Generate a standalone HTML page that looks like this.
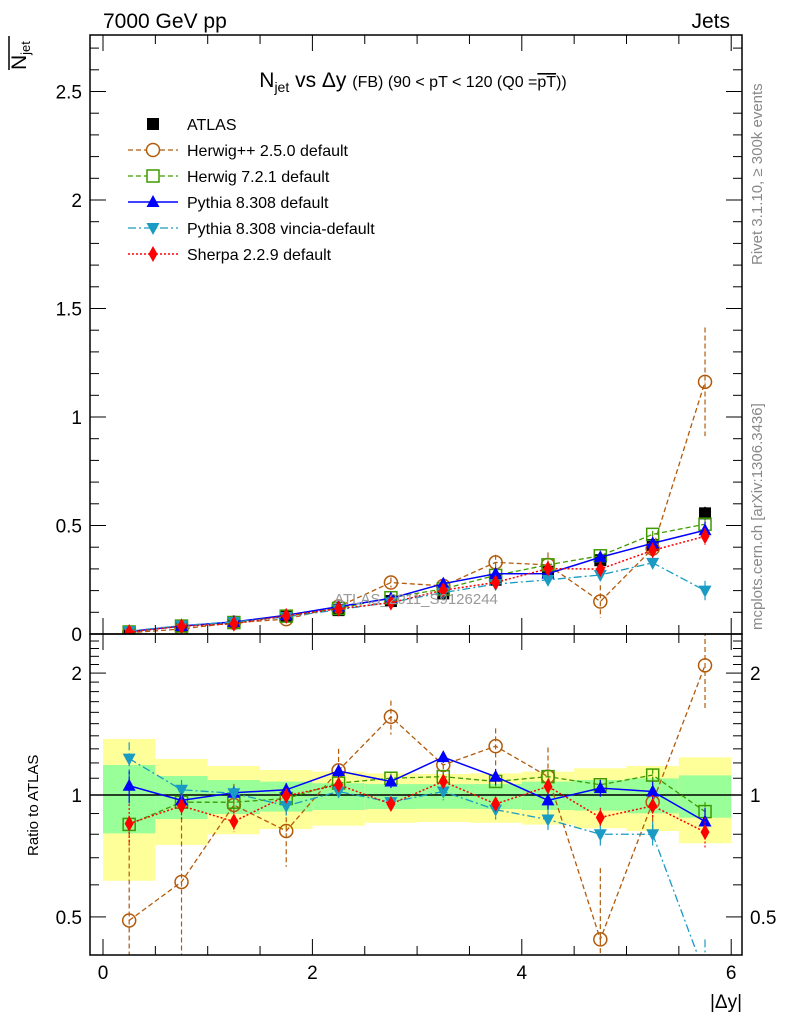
<!DOCTYPE html>
<html><head><meta charset="utf-8">
<style>
html,body{margin:0;padding:0;background:#fff;overflow:hidden;width:786px;height:1024px;}
svg{display:block;font-family:"Liberation Sans",sans-serif;}
</style></head>
<body>
<svg id="chart" width="786" height="1024" viewBox="0 0 786 1024" xmlns="http://www.w3.org/2000/svg">
<defs>
<clipPath id="clipMain"><rect x="90" y="35" width="652" height="599"/></clipPath>
<clipPath id="clipRatio"><rect x="90" y="634" width="652" height="321"/></clipPath>
</defs>
<g id="bands" clip-path="url(#clipRatio)"></g>
<g id="marksMain" clip-path="url(#clipMain)"></g>
<g id="marksRatio" clip-path="url(#clipRatio)"></g>
<g id="axes"></g>
<text x="103" y="28" font-size="21">7000 GeV pp</text>
<text x="730" y="28" font-size="21" text-anchor="end">Jets</text>
<text x="413" y="87" font-size="21" text-anchor="middle">N<tspan font-size="14" dy="5">jet</tspan><tspan dy="-5"> vs Δy </tspan><tspan font-size="16">(FB) (90 &lt; pT &lt; 120 (Q0 =</tspan><tspan font-size="16" text-decoration="overline">pT</tspan><tspan font-size="16">))</tspan></text>
<text transform="translate(26,70) rotate(-90)" font-size="21">N<tspan font-size="13" dy="4">jet</tspan></text>
<line x1="9" y1="36" x2="9" y2="70" stroke="#000" stroke-width="1.5"/>
<text transform="translate(762,265) rotate(-90)" font-size="15" fill="#888">Rivet 3.1.10, ≥ 300k events</text>
<text transform="translate(762,630) rotate(-90)" font-size="15" fill="#888">mcplots.cern.ch [arXiv:1306.3436]</text>
<text transform="translate(38,856) rotate(-90)" font-size="15">Ratio to ATLAS</text>
<text x="742" y="1008" font-size="19" text-anchor="end">|Δy|</text>
<text x="416" y="604" font-size="15" fill="#999" text-anchor="middle">ATLAS_2011_S9126244</text>
<g id="legend"></g>
<script>
const xCenters = [0.25,0.75,1.25,1.75,2.25,2.75,3.25,3.75,4.25,4.75,5.25,5.75];
const atlasValues = [0.011,0.038,0.055,0.084,0.11,0.152,0.187,0.25,0.287,0.34,0.41,0.556];
const atlasErrors = [0.002,0.003,0.004,0.005,0.006,0.008,0.01,0.012,0.015,0.018,0.022,0.03];
const statUp = [1.186,1.114,1.089,1.079,1.069,1.064,1.064,1.064,1.079,1.089,1.099,1.118];
const statDown = [0.804,0.872,0.898,0.910,0.918,0.923,0.925,0.923,0.918,0.915,0.901,0.879];
const totUp = [1.375,1.227,1.179,1.153,1.142,1.131,1.127,1.131,1.142,1.164,1.179,1.239];
const totDown = [0.614,0.753,0.800,0.824,0.840,0.854,0.858,0.854,0.845,0.828,0.815,0.760];
const herwigppRatio = [0.49,0.61,0.945,0.815,1.15,1.56,1.186,1.32,1.11,0.44,0.96,2.09];
const herwigppErr = [0.4,0.27,0.12,0.15,0.15,0.15,0.06,0.14,0.2,0.22,0.15,0.45];
const herwig7Ratio = [0.846,0.96,0.96,0.98,1.07,1.10,1.11,1.08,1.11,1.06,1.12,0.91];
const herwig7Err = [0.04,0.03,0.03,0.03,0.03,0.03,0.03,0.03,0.03,0.03,0.04,0.05];
const pythiaRatio = [1.054,0.97,1.013,1.03,1.146,1.08,1.24,1.11,0.97,1.04,1.02,0.86];
const pythiaErr = [0.1,0.04,0.04,0.04,0.04,0.04,0.04,0.05,0.05,0.05,0.06,0.07];
const vinciaRatio = [1.23,1.03,1.01,0.94,1.02,0.96,1.02,0.92,0.87,0.80,0.80,0.36];
const vinciaErr = [0.12,0.06,0.04,0.05,0.04,0.04,0.05,0.05,0.05,0.05,0.06,0.08];
const sherpaRatio = [0.85,0.94,0.86,0.995,1.06,0.95,1.08,0.95,1.05,0.88,0.94,0.81];
const sherpaErr = [0.1,0.07,0.05,0.04,0.04,0.04,0.04,0.04,0.04,0.05,0.06,0.07];
const mainTicks = [0,0.5,1,1.5,2,2.5];
const mainTickLabels = ["0","0.5","1","1.5","2","2.5"];
const ratioTicks = [0.5,1,2];
const ratioTickLabels = ["0.5","1","2"];
const xTicks = [0,2,4,6];
const xTickLabels = ["0","2","4","6"];

const NS="http://www.w3.org/2000/svg";
const X = v => 103 + 104.7*v;
const Ym = v => 634 - 217*v;
const Yr = r => 795 - 405*Math.log10(Math.max(r,0.05));
function el(tag, attrs, parent){const e=document.createElementNS(NS,tag);for(const k in attrs)e.setAttribute(k,attrs[k]);parent.appendChild(e);return e;}
const bandsG=document.getElementById('bands'), mainG=document.getElementById('marksMain'), ratioG=document.getElementById('marksRatio'), axG=document.getElementById('axes'), legG=document.getElementById('legend');

xCenters.forEach((c,i)=>{
  const x0=X(c-0.25), x1=X(c+0.25);
  const y=el('rect',{x:x0,y:Yr(totUp[i]),width:x1-x0,height:Yr(totDown[i])-Yr(totUp[i]),fill:'#ffff99'},bandsG);
  
  
  const g=el('rect',{x:x0,y:Yr(statUp[i]),width:x1-x0,height:Yr(statDown[i])-Yr(statUp[i]),fill:'#99ff99'},bandsG);
  
  
});
const one=el('line',{x1:90,x2:742,y1:Yr(1),y2:Yr(1),stroke:'#000','stroke-width':1.5},ratioG);



function marker(type,color,x,y,parent){
  let m;
  if(type==='square') m=el('rect',{x:x-6,y:y-6,width:12,height:12,fill:color},parent);
  else if(type==='osquare') m=el('rect',{x:x-6,y:y-6,width:12,height:12,fill:'none',stroke:color,'stroke-width':1.5},parent);
  else if(type==='ocircle') m=el('circle',{cx:x,cy:y,r:6.5,fill:'none',stroke:color,'stroke-width':1.5},parent);
  else if(type==='tri') m=el('polygon',{points:`${x},${y-7} ${x-6.5},${y+5} ${x+6.5},${y+5}`,fill:color},parent);
  else if(type==='dtri') m=el('polygon',{points:`${x},${y+7} ${x-6.5},${y-5} ${x+6.5},${y-5}`,fill:color},parent);
  else m=el('polygon',{points:`${x},${y-8} ${x-4.5},${y} ${x},${y+8} ${x+4.5},${y}`,fill:color},parent);
  return m;
}
const series=[
 {name:'herwigpp',ratio:herwigppRatio,err:herwigppErr,color:'#b35a0a',dash:'5,3',w:1.3,m:'ocircle',label:'Herwig++ 2.5.0 default'},
 {name:'herwig7',ratio:herwig7Ratio,err:herwig7Err,color:'#3f9a00',dash:'5,3',w:1.3,m:'osquare',label:'Herwig 7.2.1 default'},
 {name:'pythia',ratio:pythiaRatio,err:pythiaErr,color:'#0000ff',dash:'',w:1.5,m:'tri',label:'Pythia 8.308 default'},
 {name:'vincia',ratio:vinciaRatio,err:vinciaErr,color:'#1a9bc4',dash:'8,3,2,3',w:1.3,m:'dtri',label:'Pythia 8.308 vincia-default'},
 {name:'sherpa',ratio:sherpaRatio,err:sherpaErr,color:'#ff0000',dash:'2,2',w:1.5,m:'diamond',label:'Sherpa 2.2.9 default'}
];
xCenters.forEach((c,i)=>{
  const e=el('line',{x1:X(c),x2:X(c),y1:Ym(atlasValues[i]+atlasErrors[i]),y2:Ym(atlasValues[i]-atlasErrors[i]),stroke:'#000','stroke-width':1.5},mainG);
  
  
  const m=marker('square','#000',X(c),Ym(atlasValues[i]),mainG);
  
  
});
series.forEach(s=>{
  [['main',mainG,(i)=>Ym(s.ratio[i]*atlasValues[i]),(i,d)=>Ym((s.ratio[i]+d*s.err[i])*atlasValues[i])],
   ['ratio',ratioG,(i)=>Yr(s.ratio[i]),(i,d)=>Yr(s.ratio[i]+d*s.err[i])]].forEach(([p,g,fy,fe])=>{
    const pts=xCenters.map((c,i)=>`${X(c)},${fy(i)}`).join(' ');
    const l=el('polyline',{points:pts,fill:'none',stroke:s.color,'stroke-width':s.w,'stroke-dasharray':s.dash},g);
    
    
    xCenters.forEach((c,i)=>{
      const e=el('line',{x1:X(c),x2:X(c),y1:fe(i,1),y2:fe(i,-1),stroke:s.color,'stroke-width':1.2,'stroke-dasharray':s.dash},g);
      
      
      const m=marker(s.m,s.color,X(c),fy(i),g);
      
      
    });
  });
});
const lyStart=124;
const la=marker('square','#000',153,lyStart,legG);


const lat=el('text',{x:187,y:lyStart+6,'font-size':16},legG); lat.textContent='ATLAS';


series.forEach((s,k)=>{
  const y=lyStart+26*(k+1);
  const l=el('line',{x1:128,x2:178,y1:y,y2:y,stroke:s.color,'stroke-width':s.w,'stroke-dasharray':s.dash},legG);
  
  
  const m=marker(s.m,s.color,153,y,legG);
  if(s.m==='ocircle'||s.m==='osquare') m.setAttribute('fill','#fff');
  
  
  const t=el('text',{x:187,y:y+6,'font-size':16},legG); t.textContent=s.label;
  
  
});
const f1=el('rect',{x:90,y:35,width:652,height:599,fill:'none',stroke:'#000','stroke-width':1.5},axG);


const f2=el('rect',{x:90,y:634,width:652,height:321,fill:'none',stroke:'#000','stroke-width':1.5},axG);


for(let v=0;v<=2.75;v+=0.1){
  const y=Ym(v); const major=Math.abs(v*2-Math.round(v*2))<1e-6; const len=major?16:9;
  el('line',{x1:90,x2:90+len,y1:y,y2:y,stroke:'#000'},axG);
  el('line',{x1:742,x2:742-len,y1:y,y2:y,stroke:'#000'},axG);
}
mainTicks.forEach((v,i)=>{const t=el('text',{x:82,y:Ym(v)+7,'font-size':19,'text-anchor':'end'},axG);t.textContent=mainTickLabels[i];
  
  });
for(let r=0.4;r<=2.5;r+=0.1){
  const y=Yr(r); const major=[0.5,1,2].some(m=>Math.abs(m-r)<1e-6); const len=major?16:9;
  if(y<634||y>955) continue;
  el('line',{x1:90,x2:90+len,y1:y,y2:y,stroke:'#000'},axG);
  el('line',{x1:742,x2:742-len,y1:y,y2:y,stroke:'#000'},axG);
}
ratioTicks.forEach((v,i)=>{
  const t=el('text',{x:82,y:Yr(v)+7,'font-size':19,'text-anchor':'end'},axG);t.textContent=ratioTickLabels[i];
  
  
  const t2=el('text',{x:750,y:Yr(v)+7,'font-size':19},axG);t2.textContent=ratioTickLabels[i];
  
  
});
for(let v=0;v<=6;v+=0.5){
  const x=X(v); const major=(v%2===0); const len=major?16:9;
  [[634,-1],[955,-1],[35,1],[634,1]].forEach(([yy,d])=>el('line',{x1:x,x2:x,y1:yy,y2:yy+d*len,stroke:'#000'},axG));
}
xTicks.forEach((v,i)=>{const t=el('text',{x:X(v),y:979,'font-size':19,'text-anchor':'middle'},axG);t.textContent=xTickLabels[i];
  
  });
</script>
</svg>
</body></html>
